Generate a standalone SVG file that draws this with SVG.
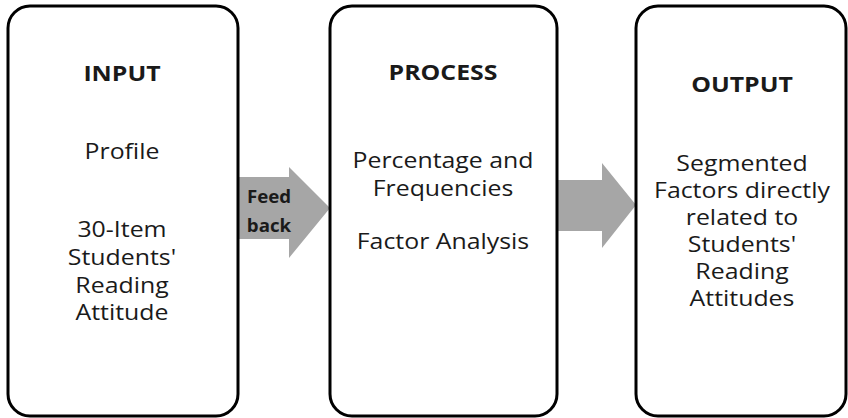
<svg xmlns="http://www.w3.org/2000/svg" width="848" height="418" viewBox="0 0 848 418">
<style>
.box{fill:#ffffff;stroke:#000000;stroke-width:3}
.arrow{fill:#a6a6a6;stroke:none}
text{font-family:"Open Sans","Noto Sans","Liberation Sans",sans-serif;font-size:22px;fill:#1a1a1a;text-anchor:middle}
.h{font-weight:bold}
.fb{font-weight:bold;font-size:17px}
</style>
<rect width="848" height="418" fill="#ffffff"/>
<g id="connectors">
<polygon class="arrow" points="229,177 289,177 289,167 330,208 289,258 289,239 229,239"/>
<polygon class="arrow" points="556,180 602,180 602,163 636,205 602,248 602,231 556,231"/>
</g>
<g id="input">
<rect class="box" x="8" y="6" width="230" height="410" rx="22"/>
<g transform="translate(122,0) scale(1.13,1)">
<text class="h" x="0" y="81">INPUT</text>
<text x="0" y="159">Profile</text>
<text x="0" y="237">30-Item</text>
<text x="0" y="265">Students'</text>
<text x="0" y="293">Reading</text>
<text x="0" y="320">Attitude</text>
</g>
</g>
<g id="process">
<rect class="box" x="330" y="6" width="227" height="410" rx="22"/>
<g transform="translate(443,0) scale(1.13,1)">
<text class="h" x="0" y="80">PROCESS</text>
<text x="0" y="168">Percentage and</text>
<text x="0" y="196">Frequencies</text>
<text x="0" y="249">Factor Analysis</text>
</g>
</g>
<g id="output">
<rect class="box" x="636" y="6" width="210" height="410" rx="22"/>
<g transform="translate(742,0) scale(1.13,1)">
<text class="h" x="0" y="92">OUTPUT</text>
<text x="0" y="171">Segmented</text>
<text x="0" y="198">Factors directly</text>
<text x="0" y="225">related to</text>
<text x="0" y="252">Students'</text>
<text x="0" y="279">Reading</text>
<text x="0" y="306">Attitudes</text>
</g>
</g>
<g id="feedback">
<g transform="translate(269,0) scale(1.1,1)">
<text class="fb" x="0" y="203">Feed</text>
<text class="fb" x="0" y="232">back</text>
</g>
</g>
</svg>
